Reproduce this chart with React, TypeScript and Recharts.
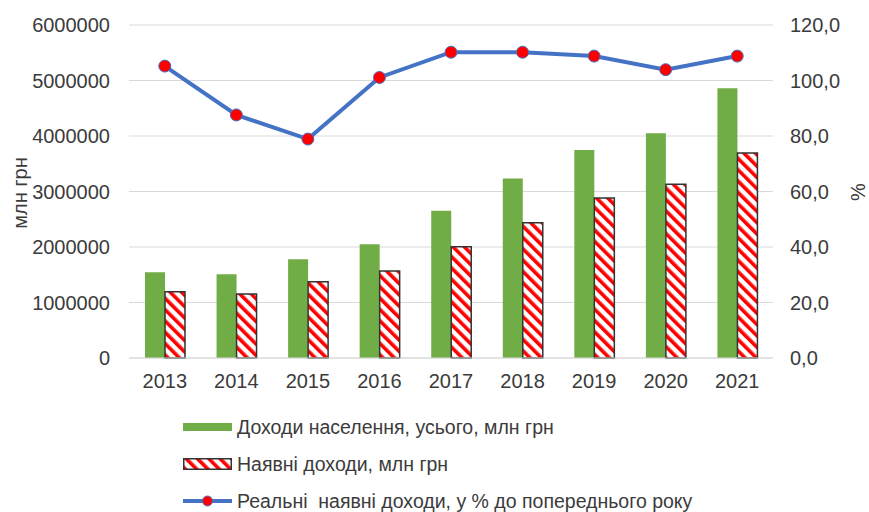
import React from "react";
import {
  Bar,
  CartesianGrid,
  ComposedChart,
  Label,
  Line,
  XAxis,
  YAxis,
} from "recharts";

const years = ["2013", "2014", "2015", "2016", "2017", "2018", "2019", "2020", "2021"];
const totalIncome = [1545000, 1508000, 1778000, 2048000, 2654000, 3236000, 3746000, 4048000, 4859000];
const disposableIncome = [1195000, 1153000, 1375000, 1568000, 2006000, 2438000, 2883000, 3130000, 3694000];
const realDisposable = [105.2, 87.6, 78.9, 101.1, 110.2, 110.2, 108.8, 103.9, 108.8];

const leftTicks = [0, 1000000, 2000000, 3000000, 4000000, 5000000, 6000000];
const rightTicks = [0, 20, 40, 60, 80, 100, 120];

const seriesNames = {
  total: "Доходи населення, усього, млн грн",
  disposable: "Наявні доходи, млн грн",
  real: "Реальні  наявні доходи, у % до попереднього року",
};

const data = years.map((year, i) => ({
  year,
  total: totalIncome[i],
  disposable: disposableIncome[i],
  real: realDisposable[i],
}));

const green = "#70AD47";
const blue = "#4472C4";
const red = "#FF0000";
const textColor = "#3b3b3b";
const font = "'Liberation Sans', Arial, sans-serif";

const tickStyle = { fontSize: 20, fill: textColor, fontFamily: font };

function Hatch({ id }: { id: string }) {
  return (
    <pattern id={id} patternUnits="userSpaceOnUse" width={8} height={8} patternTransform="rotate(-45)">
      <rect width={8} height={8} fill="#ffffff" />
      <rect width={3.6} height={8} fill={red} />
    </pattern>
  );
}

function LegendBlock() {
  const row: React.CSSProperties = {
    position: "absolute",
    left: 183,
    display: "flex",
    alignItems: "center",
    height: 24,
    fontFamily: font,
    fontSize: 19.5,
    color: textColor,
    whiteSpace: "pre",
  };
  const label: React.CSSProperties = { marginLeft: 5 };
  return (
    <>
      <div style={{ ...row, top: 415 }}>
        <svg width={49} height={10}>
          <rect x={0} y={1} width={49} height={8} fill={green} />
        </svg>
        <span style={label}>{seriesNames.total}</span>
      </div>
      <div style={{ ...row, top: 452 }}>
        <svg width={49} height={12}>
          <defs>
            <Hatch id="hatch-legend" />
          </defs>
          <rect x={0.75} y={0.75} width={47.5} height={10.5} fill="url(#hatch-legend)" stroke="#333" strokeWidth={1.5} />
        </svg>
        <span style={label}>{seriesNames.disposable}</span>
      </div>
      <div style={{ ...row, top: 489 }}>
        <svg width={49} height={14}>
          <line x1={0} y1={7} x2={49} y2={7} stroke={blue} strokeWidth={4} />
          <circle cx={24.5} cy={7} r={5} fill={red} stroke={blue} strokeWidth={1} />
        </svg>
        <span style={label}>{seriesNames.real}</span>
      </div>
    </>
  );
}

export default function App() {
  return (
    <div style={{ position: "absolute", left: 0, top: 0, width: 869, height: 512, background: "#fff" }}>
      <ComposedChart
        width={869}
        height={512}
        data={data}
        margin={{ top: 25, right: 0, left: 0, bottom: 124 }}
        barGap={0}
      >
        <defs>
          <Hatch id="hatch-bar" />
        </defs>
        <CartesianGrid vertical={false} stroke="#d9d9d9" yAxisId="left" />
        <XAxis
          dataKey="year"
          height={30}
          axisLine={{ stroke: "#d9d9d9" }}
          tickLine={false}
          tickSize={0}
          tickMargin={16}
          tick={tickStyle}
        />
        <YAxis
          yAxisId="left"
          width={129}
          domain={[0, 6000000]}
          ticks={leftTicks}
          interval={0}
          axisLine={false}
          tickLine={false}
          tickSize={0}
          tickMargin={19}
          tick={tickStyle}
        >
          <Label
            content={() => (
              <text
                x={20}
                y={193}
                transform="rotate(-90 20 193)"
                textAnchor="middle"
                dominantBaseline="central"
                fontSize={20}
                fill={textColor}
                fontFamily={font}
              >
                млн грн
              </text>
            )}
          />
        </YAxis>
        <YAxis
          yAxisId="right"
          orientation="right"
          width={96}
          domain={[0, 120]}
          ticks={rightTicks}
          interval={0}
          axisLine={false}
          tickLine={false}
          tickSize={0}
          tickMargin={17}
          tick={tickStyle}
          tickFormatter={(v: number) => v.toFixed(1).replace(".", ",")}
        >
          <Label
            content={() => (
              <text
                x={858}
                y={192}
                transform="rotate(-90 858 192)"
                textAnchor="middle"
                dominantBaseline="central"
                fontSize={20}
                fill={textColor}
                fontFamily={font}
              >
                %
              </text>
            )}
          />
        </YAxis>
        <Bar
          yAxisId="left"
          dataKey="total"
          name={seriesNames.total}
          fill={green}
          barSize={20}
          isAnimationActive={false}
        />
        <Bar
          yAxisId="left"
          dataKey="disposable"
          name={seriesNames.disposable}
          fill="url(#hatch-bar)"
          stroke="#333"
          strokeWidth={1.5}
          barSize={20}
          isAnimationActive={false}
        />
        <Line
          yAxisId="right"
          type="linear"
          dataKey="real"
          name={seriesNames.real}
          stroke={blue}
          strokeWidth={4}
          dot={{ r: 6, fill: red, stroke: blue, strokeWidth: 1 }}
          activeDot={false}
          isAnimationActive={false}
        />
      </ComposedChart>
      <LegendBlock />
    </div>
  );
}
